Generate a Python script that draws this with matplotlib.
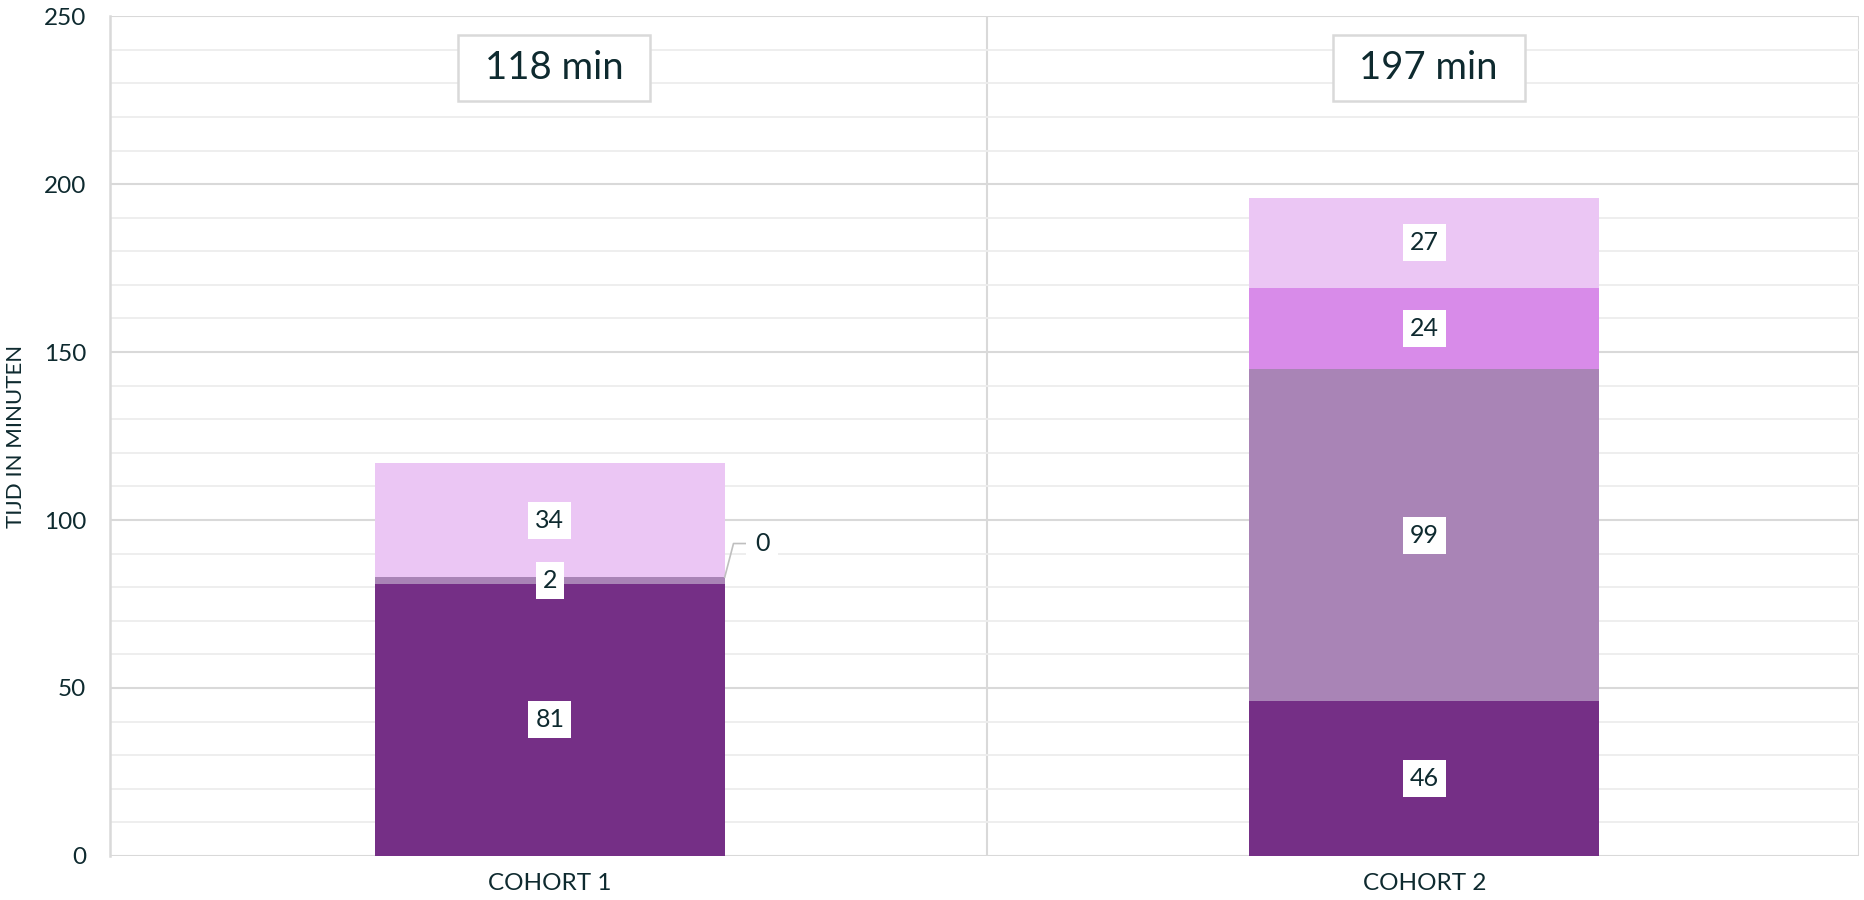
import numpy as np
import matplotlib
matplotlib.use("Agg")
import matplotlib.pyplot as plt
from matplotlib.patches import Rectangle

plt.rcParams['font.family'] = ['Lato', 'DejaVu Sans']

cohorts = ["COHORT 1", "COHORT 2"]
seg1 = [81, 46]
seg2 = [2, 99]
seg3 = [0, 24]
seg4 = [34, 27]
totals = ["118 min", "197 min"]

colors = ["#752F86", "#A984B6", "#D88BE9", "#EBC6F4"]
txt = "#0E2A2F"

fig = plt.figure(figsize=(18.64, 9), dpi=100)
ax = fig.add_axes([0.059, 0.049, 0.9383, 0.933])

x = np.arange(len(cohorts))
w = 0.4
bottom = np.zeros(len(cohorts))
segs = [seg1, seg2, seg3, seg4]
for vals, c in zip(segs, colors):
    vals = np.array(vals, dtype=float)
    ax.bar(x + 0.003, vals, w, bottom=bottom, color=c, zorder=3)
    for xi, v, b in zip(x + 0.003, vals, bottom):
        if v == 0:
            # label outside with leader line
            ax.plot([xi + w / 2, xi + w / 2 + 0.01, xi + w / 2 + 0.026],
                    [b, b + 10, b + 10], color="#BFBFBF", lw=1.2, zorder=4)
            ax.text(xi + w / 2 + 0.043, b + 10, "%d" % v, ha="center", va="center",
                    fontsize=18, color=txt, zorder=5,
                    bbox=dict(boxstyle="square,pad=0.35", fc="white", ec="none"))
        else:
            ax.text(xi, b + v / 2, "%d" % v, ha="center", va="center",
                    fontsize=18, color=txt, zorder=5,
                    bbox=dict(boxstyle="square,pad=0.28", fc="white", ec="none"))
    bottom += vals

bw, bh = 0.22, 19.4
for xi, t in zip(x + 0.008, totals):
    ax.add_patch(Rectangle((xi - bw / 2, 234.6 - bh / 2), bw, bh, fc="white",
                           ec="#D9D9D9", lw=1.8, zorder=4))
    ax.text(xi, 234.6, t, ha="center", va="center", fontsize=27.5, color=txt, zorder=5)

ax.set_xlim(-0.5, 1.5)
ax.set_ylim(0, 250)
ax.set_yticks(np.arange(0, 251, 50))
ax.set_yticks(np.arange(0, 251, 10), minor=True)
ax.grid(axis="y", which="minor", color="#EDEDED", lw=1.3, zorder=0)
ax.grid(axis="y", which="major", color="#D9D9D9", lw=1.5, zorder=1)
for xv in [0.503, 1.5]:
    ax.axvline(xv, color="#D9D9D9", lw=1.5, zorder=1)

ax.set_xticks(x + 0.003)
ax.set_xticklabels(cohorts)
ax.tick_params(axis="both", which="both", length=0, labelsize=17.5, colors=txt)
ax.tick_params(axis="y", pad=17)
ax.tick_params(axis="x", pad=12)
for s in ["top", "right", "bottom"]:
    ax.spines[s].set_visible(False)
ax.spines["left"].set_color("#D9D9D9")
ax.spines["left"].set_linewidth(1.8)
ax.axhline(0, color="#D9D9D9", lw=1.8, zorder=2)

ax.set_ylabel("TIJD IN MINUTEN", fontsize=16, color=txt, labelpad=13)

fig.savefig("out.png", dpi=100)
